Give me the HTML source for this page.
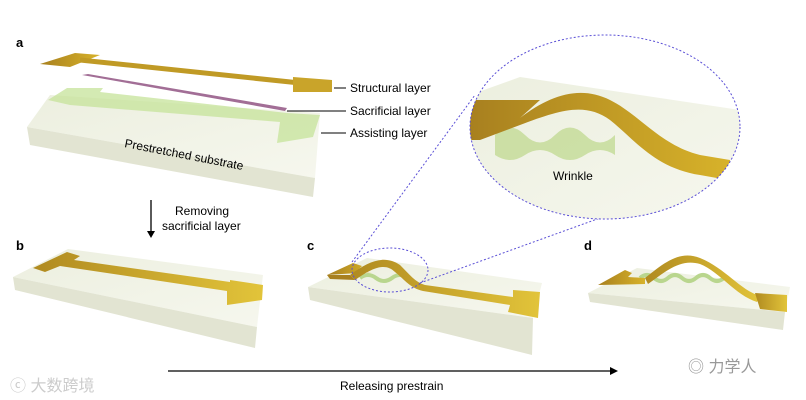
<!DOCTYPE html>
<html><head><meta charset="utf-8"><style>
html,body{margin:0;padding:0;background:#fff;}
svg{display:block;font-family:"Liberation Sans","Noto Sans CJK SC",sans-serif;}
</style></head><body>
<svg width="806" height="400" viewBox="0 0 806 400" xmlns="http://www.w3.org/2000/svg">
<defs>
<linearGradient id="sub" x1="0" y1="0" x2="1" y2="1"><stop offset="0" stop-color="#ecefdf"/><stop offset="1" stop-color="#f6f7ee"/></linearGradient>
<linearGradient id="gold" x1="0" y1="0" x2="1" y2="0"><stop offset="0" stop-color="#a8801f"/><stop offset="1" stop-color="#d7b22a"/></linearGradient>
<linearGradient id="gold2" x1="0" y1="0" x2="1" y2="0"><stop offset="0" stop-color="#b08a20"/><stop offset="1" stop-color="#e2c43a"/></linearGradient>
<clipPath id="ell"><ellipse cx="605" cy="127" rx="135" ry="92"/></clipPath>
</defs>

<!-- Panel a -->
<text x="16" y="47" font-size="13" font-weight="bold">a</text>
<polygon points="50,95 320,113 315,178 27,127" fill="url(#sub)"/>
<polygon points="27,127 315,178 313,197 30,145" fill="#e2e4d2"/>
<polygon points="48,100 67,88 103,88 100,92 287,113 320,115 313,137 277,143 280,122 70,105" fill="#c5e39a" opacity="0.75"/>
<polygon points="82,75 88,74 287,108 285,111" fill="#a26e96"/>
<polygon points="40,64 75,53 100,55 70,67" fill="url(#gold)"/>
<line x1="80" y1="60" x2="300" y2="83" stroke="#c09a25" stroke-width="5"/>
<polygon points="293,77 332,80 332,92 293,92" fill="#c9a42a"/>
<text x="124" y="147" font-size="12" transform="rotate(11 124 147)">Prestretched substrate</text>
<line x1="334" y1="88" x2="346" y2="88" stroke="#000"/>
<line x1="287" y1="111" x2="346" y2="111" stroke="#000"/>
<line x1="321" y1="133" x2="346" y2="133" stroke="#000"/>
<text x="350" y="92" font-size="12">Structural layer</text>
<text x="350" y="115" font-size="12">Sacrificial layer</text>
<text x="350" y="137" font-size="12">Assisting layer</text>

<!-- arrow down -->
<line x1="151" y1="200" x2="151" y2="233" stroke="#000" stroke-width="1.3"/>
<polygon points="147,231 155,231 151,238" fill="#000"/>
<text x="175" y="215" font-size="12">Removing</text>
<text x="162" y="230" font-size="12">sacrificial layer</text>

<!-- Panel b -->
<text x="16" y="250" font-size="13" font-weight="bold">b</text>
<polygon points="68,249 263,275 257,327 13,277" fill="url(#sub)"/>
<polygon points="13,277 257,327 255,348 15,290" fill="#e2e4d2"/>
<polygon points="33,268 67,252 80,256 74,260 230,282 230,280 263,285 262,300 227,305 227,291 60,266 45,272" fill="url(#gold2)"/>

<!-- Panel c -->
<text x="307" y="250" font-size="13" font-weight="bold">c</text>
<polygon points="367,258 542,283 533,318 308,287" fill="url(#sub)"/>
<polygon points="308,287 533,318 532,355 310,300" fill="#e2e4d2"/>
<path d="M360,278 q8,-6 16,0 t16,0 t16,0" stroke="#b9d68e" stroke-width="4" fill="none"/>
<polygon points="327,275 353,263 362,266 356,272 372,272" fill="url(#gold)"/>
<path d="M350,275 C370,260 385,255 400,265 C410,275 415,282 425,285 L513,297 L513,290 L540,292 L538,318 L508,312 L510,305 L423,291 C410,288 405,280 395,272 C385,262 372,268 355,280 Z" fill="url(#gold2)"/>
<polygon points="327,275 350,275 355,280 330,279" fill="#a8801f"/>
<ellipse cx="390" cy="270" rx="38" ry="22" fill="none" stroke="#5a4fd6" stroke-width="1" stroke-dasharray="2,2"/>
<line x1="352" y1="262" x2="475" y2="95" stroke="#5a4fd6" stroke-dasharray="2,2"/>
<line x1="420" y1="283" x2="600" y2="218" stroke="#5a4fd6" stroke-dasharray="2,2"/>

<!-- zoom ellipse -->
<g clip-path="url(#ell)">
<rect x="470" y="35" width="270" height="184" fill="#fff"/>
<polygon points="520,77 740,110 740,220 470,220 470,95" fill="url(#sub)"/>
<path d="M495,135 q15,-15 30,0 t30,0 t30,0 t30,0 l0,20 q-15,-10 -30,0 t-30,0 t-30,0 t-30,0 z" fill="#c5dc9a" opacity="0.85"/>
<path d="M470,100 L540,100 L520,118 C550,95 580,85 610,100 C640,115 660,145 700,155 L730,160 L728,180 L700,175 C655,168 635,140 610,120 C585,102 560,110 520,125 L480,140 L470,140 Z" fill="url(#gold)"/>
</g>
<ellipse cx="605" cy="127" rx="135" ry="92" fill="none" stroke="#5a4fd6" stroke-width="1" stroke-dasharray="2,2"/>
<text x="553" y="180" font-size="12">Wrinkle</text>

<!-- Panel d -->
<text x="584" y="250" font-size="13" font-weight="bold">d</text>
<polygon points="637,268 790,287 785,312 588,293" fill="url(#sub)"/>
<polygon points="588,293 785,312 783,330 590,302" fill="#e2e4d2"/>
<path d="M640,278 q7,-6 14,0 t14,0 t14,0 t14,0 t14,0 t14,0" stroke="#b9d68e" stroke-width="4" fill="none"/>
<polygon points="598,285 625,270 632,273 628,277 645,278 645,284" fill="url(#gold)"/>
<path d="M645,278 C665,262 680,250 700,258 C725,268 740,290 760,296 L757,302 C735,295 720,272 700,264 C680,258 665,272 648,284 Z" fill="url(#gold2)"/>
<polygon points="755,293 787,295 787,312 760,309" fill="url(#gold2)"/>

<!-- bottom arrow -->
<line x1="168" y1="371" x2="612" y2="371" stroke="#000" stroke-width="1.3"/>
<polygon points="610,367 618,371 610,375" fill="#000"/>
<text x="340" y="390" font-size="12">Releasing prestrain</text>

<!-- watermarks -->
<text x="10" y="391" font-size="16" fill="#ccc">ⓒ 大数跨境</text>
<text x="688" y="372" font-size="16" fill="#999">◎ 力学人</text>
</svg>
</body></html>
